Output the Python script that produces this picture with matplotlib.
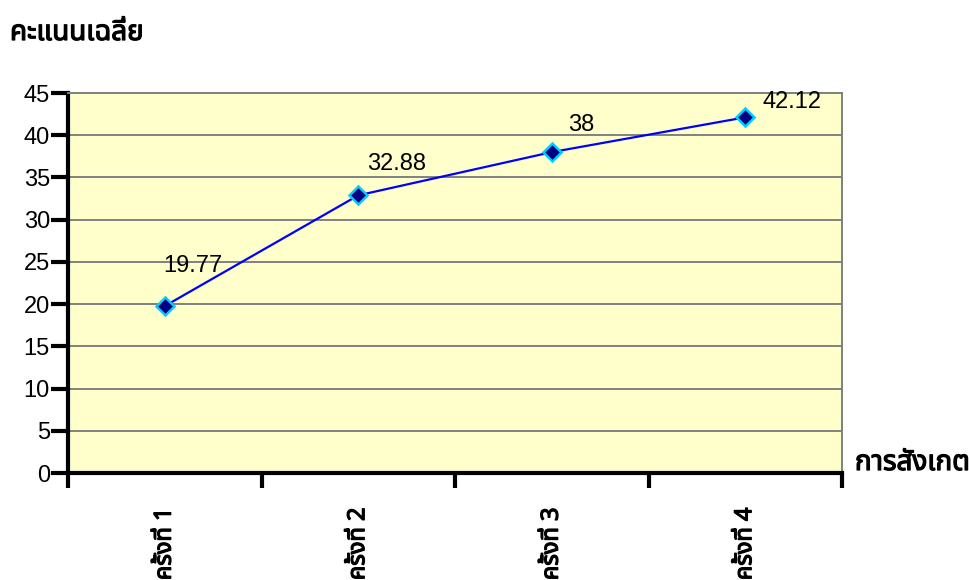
import matplotlib
matplotlib.use("Agg")
import matplotlib.pyplot as plt
from matplotlib import font_manager
from matplotlib.ft2font import FT2Font
import matplotlib.patheffects as pe

# ---- data ----
categories = ["ครั้งที่ 1", "ครั้งที่ 2", "ครั้งที่ 3", "ครั้งที่ 4"]
values = [19.77, 32.88, 38.00, 42.12]
value_labels = ["19.77", "32.88", "38", "42.12"]
y_ticks = [0, 5, 10, 15, 20, 25, 30, 35, 40, 45]
y_title = "คะแนนเฉลี่ย"
x_title = "การสังเกต"

# label offsets (pixels) – style only
label_offsets = [(28, 40), (38, 31), (29, 27), (47, 15)]


def find_thai_font():
    names = []
    for f in font_manager.fontManager.ttflist:
        try:
            cm = FT2Font(f.fname).get_charmap()
        except Exception:
            continue
        if ord("ค") in cm and ord("ี") in cm:
            names.append(f.name)
    pref = ["Noto Sans Thai", "Noto Sans Thai UI", "Tahoma", "Loma", "Garuda", "Kinnari"]
    for p in pref:
        if p in names:
            return p
    return names[0] if names else None


thai = find_thai_font()
fam = ["Liberation Sans", "DejaVu Sans"]
thai_fam = ([thai] if thai else []) + ["Liberation Sans", "DejaVu Sans"]
plt.rcParams["font.family"] = fam
bold = [pe.withStroke(linewidth=0.9, foreground="black")]

fig = plt.figure(figsize=(9.69, 5.8), dpi=100)
fig.patch.set_facecolor("white")

ax = fig.add_axes([68 / 969, 1 - 473 / 580, (842 - 68) / 969, (473 - 93) / 580])
ax.set_facecolor("#ffffcc")

x = list(range(len(categories)))
ax.plot(x, values, color="#0000ff", lw=1.6, marker="D", markersize=9,
        markerfacecolor="#000080", markeredgecolor="#00ccff", markeredgewidth=1.8,
        zorder=3)

for xi, v, lab, (dx, dy) in zip(x, values, value_labels, label_offsets):
    ax.annotate(lab, (xi, v), xytext=(dx, dy), textcoords="offset pixels",
                ha="center", va="center", fontsize=17, color="black", zorder=4)

ax.set_xlim(-0.5, len(categories) - 0.5)
ax.set_ylim(0, 45)
ax.set_yticks(y_ticks)
ax.set_yticklabels([str(t) for t in y_ticks], fontsize=17)
ax.yaxis.grid(True, color="#808080", lw=1.4)
ax.set_axisbelow(True)

ax.set_xticks([i - 0.5 for i in range(len(categories) + 1)])
ax.set_xticklabels([])
ax.set_xticks(x, minor=True)
ax.set_xticklabels(categories, minor=True, rotation=90, ha="center", va="top",
                   fontsize=17, family=thai_fam)
for t in ax.get_xticklabels(minor=True):
    t.set_path_effects(bold)
ax.tick_params(axis="x", which="minor", length=0, pad=25)
ax.tick_params(axis="x", which="major", direction="out", length=11, width=3)
ax.tick_params(axis="y", direction="out", length=12, width=3, pad=1)

for s in ["top", "right"]:
    ax.spines[s].set_color("#808080")
    ax.spines[s].set_linewidth(1.4)
for s in ["left", "bottom"]:
    ax.spines[s].set_color("black")
    ax.spines[s].set_linewidth(3)

fig.text(10 / 969, 1 - 33 / 580, y_title, fontsize=20, family=thai_fam,
         ha="left", va="center", path_effects=bold)
fig.text(855 / 969, 1 - 463 / 580, x_title, fontsize=20, family=thai_fam,
         ha="left", va="center", path_effects=bold)

fig.savefig("out.png", dpi=100, facecolor="white")
